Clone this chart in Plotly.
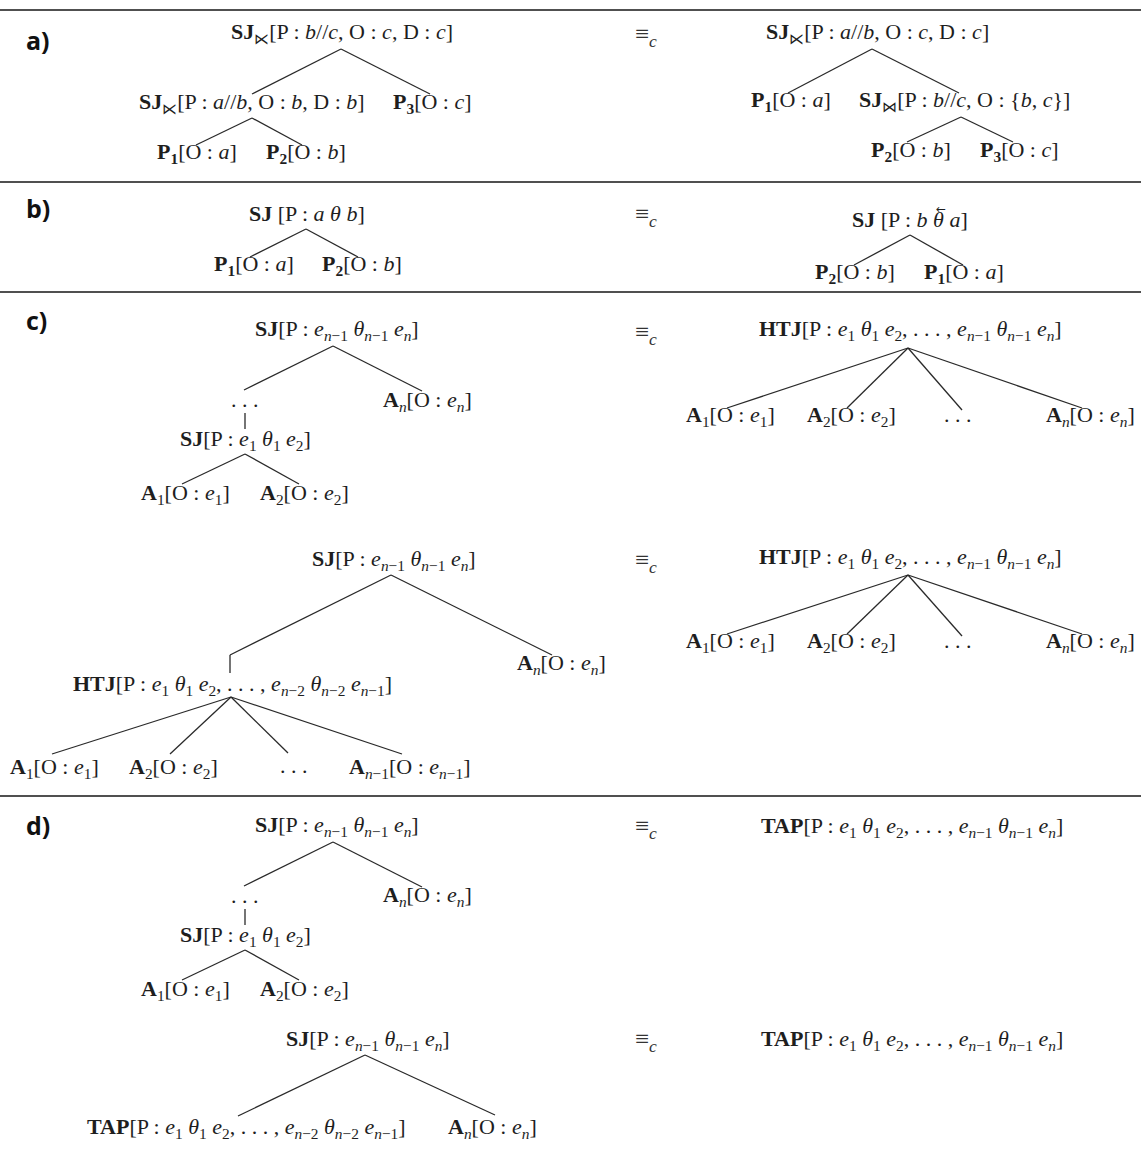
import plotly.graph_objects as go

# ---------------- text helpers ----------------
def B(s): return "<b>" + s + "</b>"
def I(s): return "<i>" + s + "</i>"
def S(s): return "<sub>" + s + "</sub>"
def e(k): return I("e") + S(k)
def th(k): return I("θ") + S(k)
n_ = I("n")
nm1 = I("n") + "−1"
nm2 = I("n") + "−2"
C = " : "

def P(k, v): return B("P") + S(B(k)) + "[O" + C + I(v) + "]"
def A(k, v): return B("A") + S(k) + "[O" + C + v + "]"

SJ_last = B("SJ") + "[P" + C + e(nm1) + " " + th(nm1) + " " + e(n_) + "]"
SJ_first = B("SJ") + "[P" + C + e("1") + " " + th("1") + " " + e("2") + "]"
LIST_N = "[P" + C + e("1") + " " + th("1") + " " + e("2") + ", . . . , " + e(nm1) + " " + th(nm1) + " " + e(n_) + "]"
LIST_N1 = "[P" + C + e("1") + " " + th("1") + " " + e("2") + ", . . . , " + e(nm2) + " " + th(nm2) + " " + e(nm1) + "]"
HTJ_N = B("HTJ") + LIST_N
HTJ_N1 = B("HTJ") + LIST_N1
TAP_N = B("TAP") + LIST_N
TAP_N1 = B("TAP") + LIST_N1
DOTS = ". . ."

# ---------------- data: panels ----------------
panel_labels = ["a)", "b)", "c)", "d)"]
panel_label_y = [40, 208, 320, 825]
separator_y = [10, 182, 292, 796]
equiv_label = "≡" + S(I("c"))
equiv_y = [35, 215, 333, 561, 827, 1040]

# ---------------- data: nodes (label, x, y) ----------------
nodes = [
    # a) left
    (B("SJ") + S("⋉") + "[P" + C + I("b") + "//" + I("c") + ", O" + C + I("c") + ", D" + C + I("c") + "]", 342, 33),
    (B("SJ") + S("⋉") + "[P" + C + I("a") + "//" + I("b") + ", O" + C + I("b") + ", D" + C + I("b") + "]", 252, 103),
    (P("3", "c"), 432, 103),
    (P("1", "a"), 197, 153),
    (P("2", "b"), 306, 153),
    # a) right
    (B("SJ") + S("⋉") + "[P" + C + I("a") + "//" + I("b") + ", O" + C + I("c") + ", D" + C + I("c") + "]", 877, 33),
    (P("1", "a"), 791, 101),
    (B("SJ") + S("⋈") + "[P" + C + I("b") + "//" + I("c") + ", O" + C + "{" + I("b") + ", " + I("c") + "}]", 964, 101),
    (P("2", "b"), 911, 151),
    (P("3", "c"), 1019, 151),
    # b) left
    (B("SJ") + " [P" + C + I("a") + " " + I("θ") + " " + I("b") + "]", 307, 213),
    (P("1", "a"), 254, 265),
    (P("2", "b"), 362, 265),
    # b) right
    (B("SJ") + " [P" + C + I("b") + " " + I("θ") + " " + I("a") + "]", 910, 219),
    (P("2", "b"), 855, 273),
    (P("1", "a"), 964, 273),
    # c) first, left
    (SJ_last, 337, 330),
    (DOTS, 245, 399),
    (A("<i>n</i>", e(n_)), 427, 401),
    (SJ_first, 245, 440),
    (A("1", e("1")), 185, 494),
    (A("2", e("2")), 304, 494),
    # c) first, right
    (HTJ_N, 910, 330),
    (A("1", e("1")), 730, 416),
    (A("2", e("2")), 851, 416),
    (DOTS, 958, 414),
    (A("<i>n</i>", e(n_)), 1090, 416),
    # c) second, left
    (SJ_last, 394, 560),
    (A("<i>n</i>", e(n_)), 561, 664),
    (HTJ_N1, 232, 685),
    (A("1", e("1")), 54, 768),
    (A("2", e("2")), 173, 768),
    (DOTS, 294, 765),
    (A(nm1, e(nm1)), 410, 768),
    # c) second, right
    (HTJ_N, 910, 558),
    (A("1", e("1")), 730, 642),
    (A("2", e("2")), 851, 642),
    (DOTS, 958, 640),
    (A("<i>n</i>", e(n_)), 1090, 642),
    # d) first, left
    (SJ_last, 337, 826),
    (DOTS, 245, 895),
    (A("<i>n</i>", e(n_)), 427, 896),
    (SJ_first, 245, 936),
    (A("1", e("1")), 185, 990),
    (A("2", e("2")), 304, 990),
    # d) first, right
    (TAP_N, 912, 827),
    # d) second, left
    (SJ_last, 368, 1040),
    (TAP_N1, 246, 1128),
    (A("<i>n</i>", e(n_)), 492, 1128),
    # d) second, right
    (TAP_N, 912, 1040),
]

# arrow accent over theta in b) right (label, x, y)
accents = [("←", 941, 209)]

# ---------------- data: edges (x0, y0, x1, y1) ----------------
edges = [
    # a) left
    (341, 49, 252, 94), (341, 49, 430, 94),
    (252, 118, 196, 145), (252, 118, 302, 145),
    # a) right
    (872, 49, 788, 93), (872, 49, 959, 93),
    (961, 117, 907, 142), (961, 117, 1013, 142),
    # b) left
    (306, 229, 250, 257), (306, 229, 358, 257),
    # b) right
    (910, 235, 854, 265), (910, 235, 963, 265),
    # c) first, left
    (333, 346, 244, 390), (333, 346, 422, 391), (245, 413, 245, 429),
    (245, 454, 182, 484), (245, 454, 299, 484),
    # c) first, right
    (908, 348, 727, 408), (908, 348, 847, 408), (908, 348, 962, 410), (908, 348, 1082, 408),
    # c) second, left
    (391, 575, 230, 655), (391, 575, 552, 655), (230, 655, 230, 673),
    (231, 697, 52, 754), (231, 697, 170, 754), (231, 697, 288, 753), (231, 697, 402, 754),
    # c) second, right
    (908, 575, 727, 634), (908, 575, 847, 634), (908, 575, 962, 636), (908, 575, 1082, 634),
    # d) first, left
    (333, 842, 244, 886), (333, 842, 422, 887), (245, 909, 245, 925),
    (245, 950, 182, 980), (245, 950, 299, 980),
    # d) second, left
    (365, 1055, 238, 1116), (365, 1055, 495, 1115),
]

# ---------------- figure ----------------
W, H = 1141, 1152
fig = go.Figure()

SERIF = "Liberation Serif, DejaVu Serif, serif"
TEXT_FONT = dict(family=SERIF, size=22, color="#1e1e1e")

for y in separator_y:
    fig.add_trace(go.Scatter(x=[0, W], y=[y, y], mode="lines",
                             line=dict(color="#505050", width=2.2),
                             hoverinfo="skip", showlegend=False))

for (x0, y0, x1, y1) in edges:
    fig.add_trace(go.Scatter(x=[x0, x1], y=[y0, y1], mode="lines",
                             line=dict(color="#2a2a2a", width=1.3),
                             hoverinfo="skip", showlegend=False))

annotations = []
for lab, y in zip(panel_labels, panel_label_y):
    annotations.append(dict(x=24, y=y, xref="x", yref="y", text="<b>" + lab + "</b>",
                            showarrow=False, xanchor="left", yanchor="middle",
                            font=dict(family="Open Sans, DejaVu Sans, sans-serif", size=25, color="#111")))
for y in equiv_y:
    annotations.append(dict(x=646, y=y, xref="x", yref="y", text=equiv_label,
                            showarrow=False, xanchor="center", yanchor="middle",
                            font=dict(family=SERIF, size=25, color="#333")))
for (lab, x, y) in nodes:
    annotations.append(dict(x=x, y=y, xref="x", yref="y", text=lab,
                            showarrow=False, xanchor="center", yanchor="middle",
                            font=TEXT_FONT))
for (lab, x, y) in accents:
    annotations.append(dict(x=x, y=y, xref="x", yref="y", text=lab,
                            showarrow=False, xanchor="center", yanchor="middle",
                            font=dict(family="DejaVu Sans, sans-serif", size=12, color="#1e1e1e")))

fig.update_layout(
    width=W, height=H,
    margin=dict(l=0, r=0, t=0, b=0),
    paper_bgcolor="white", plot_bgcolor="white",
    xaxis=dict(range=[0, W], visible=False, fixedrange=True),
    yaxis=dict(range=[H, 0], visible=False, fixedrange=True),
    annotations=annotations,
    showlegend=False,
)

fig.write_html("out.html", config={"displayModeBar": False},
               post_script="document.body.style.margin='0';document.body.style.overflow='hidden';")
